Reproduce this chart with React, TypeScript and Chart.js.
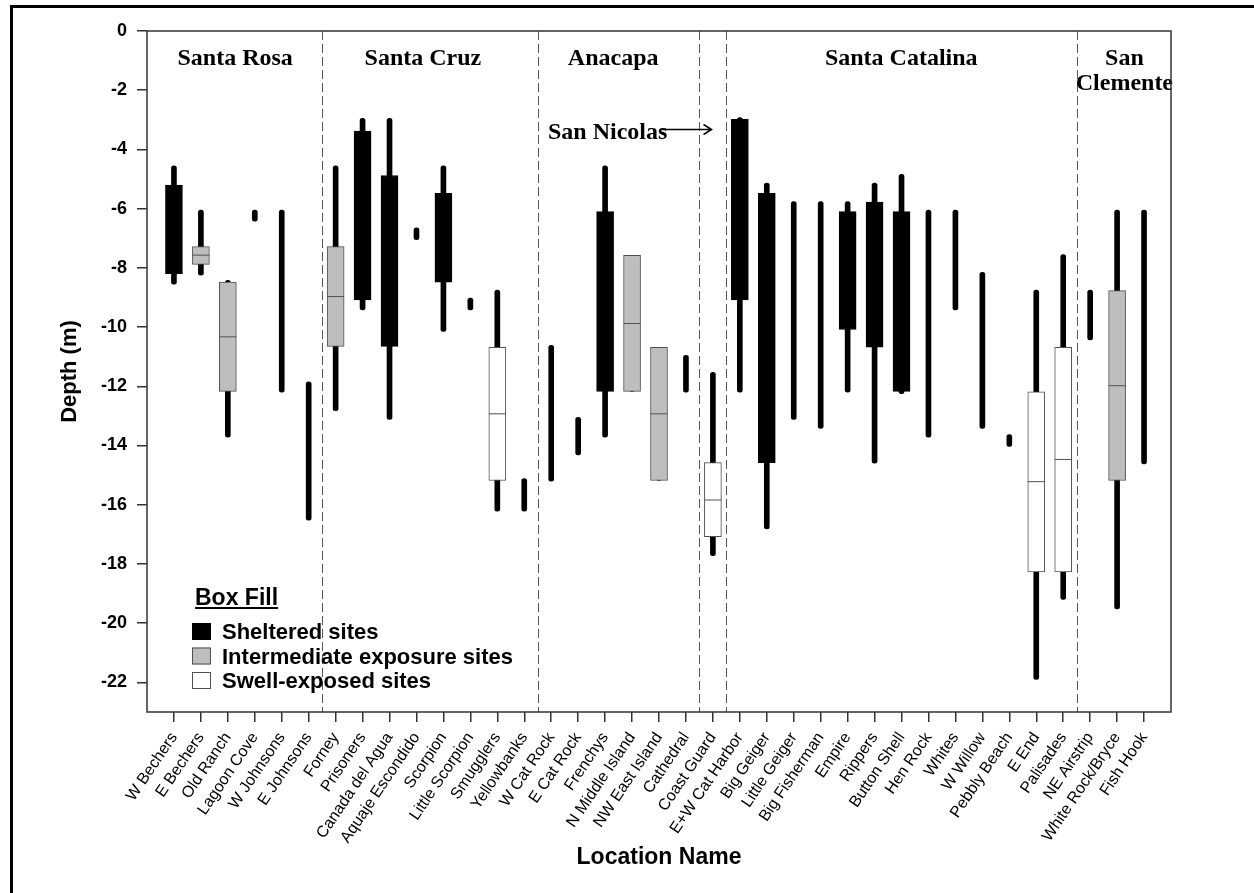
import React, { useEffect, useRef } from 'react';
import { Chart, registerables } from 'chart.js';

Chart.register(...registerables);

// ---------- DATA ----------
const locations = [
  'W Bechers', 'E Bechers', 'Old Ranch', 'Lagoon Cove', 'W Johnsons', 'E Johnsons',
  'Forney', 'Prisoners', 'Canada del Agua', 'Aquaje Escondido', 'Scorpion', 'Little Scorpion', 'Smugglers', 'Yellowbanks',
  'W Cat Rock', 'E Cat Rock', 'Frenchys', 'N Middle Island', 'NW East Island', 'Cathedral',
  'Coast Guard',
  'E+W Cat Harbor', 'Big Geiger', 'Little Geiger', 'Big Fisherman', 'Empire', 'Rippers', 'Button Shell', 'Hen Rock',
  'Whites', 'W Willow', 'Pebbly Beach', 'E End', 'Palisades',
  'NE Airstrip', 'White Rock/Bryce', 'Fish Hook',
];

const whiskerHigh = [
  -4.55, -6.05, -8.42, -6.05, -6.05, -11.85,
  -4.55, -2.95, -2.95, -6.65, -4.55, -9.02, -8.75, -15.12,
  -10.62, -13.05, -4.55, -7.58, -10.68, -10.95,
  -11.53,
  -2.92, -5.14, -5.76, -5.76, -5.76, -5.14, -4.84, -6.05,
  -6.05, -8.15, -13.63, -8.75, -7.55,
  -8.75, -6.05, -6.05,
];

const whiskerLow = [
  -8.55, -8.25, -13.72, -6.42, -12.2, -16.52,
  -12.82, -9.42, -13.12, -7.05, -10.15, -9.42, -16.22, -16.22,
  -15.2, -14.32, -13.72, -12.17, -15.18, -12.2,
  -17.72,
  -12.2, -16.82, -13.12, -13.42, -12.2, -14.6, -12.25, -13.72,
  -9.42, -13.42, -14.03, -21.9, -19.2,
  -10.43, -19.52, -14.62,
];

const boxHigh = [
  -5.2, -7.28, -8.48, null, null, null,
  -7.28, -3.38, -4.88, null, -5.48, null, -10.68, null,
  null, null, -6.1, -7.58, -10.68, null,
  -14.58,
  -2.98, -5.48, null, null, -6.1, -5.78, -6.1, null,
  null, null, null, -12.19, -10.68,
  null, -8.77, null,
];

const boxLow = [
  -8.2, -7.88, -12.17, null, null, null,
  -10.65, -9.08, -10.65, null, -8.48, null, -15.18, null,
  null, null, -12.17, -12.17, -15.18, null,
  -17.08,
  -9.08, -14.58, null, null, -10.08, -10.68, -12.17, null,
  null, null, null, -18.27, -18.27,
  null, -15.18, null,
];

const medians = [
  null, -7.57, -10.33, null, null, null,
  -8.97, null, null, null, null, null, -12.93, null,
  null, null, null, -9.88, -12.93, null,
  -15.84,
  null, null, null, null, null, null, null, null,
  null, null, null, -15.22, -14.47,
  null, -11.98, null,
];

// S = sheltered, I = intermediate exposure, E = swell-exposed (only where a box is drawn)
const exposure = [
  'S', 'I', 'I', null, null, null,
  'I', 'S', 'S', null, 'S', null, 'E', null,
  null, null, 'S', 'I', 'I', null,
  'E',
  'S', 'S', null, null, 'S', 'S', 'S', null,
  null, null, null, 'E', 'E',
  null, 'I', null,
];

const yTickValues = [0, -2, -4, -6, -8, -10, -12, -14, -16, -18, -20, -22];
const islandDividers = [5.5, 13.5, 19.5, 20.5, 33.5];
const islandNames = [['Santa Rosa'], ['Santa Cruz'], ['Anacapa'], ['Santa Catalina'], ['San', 'Clemente']];
const legendTitle = 'Box Fill';
const legendLabels = ['Sheltered sites', 'Intermediate exposure sites', 'Swell-exposed sites'];
const legendKinds = ['S', 'I', 'E'];

// ---------- LAYOUT / STYLE ----------
const W = 1254;
const H = 893;
const SANS = '"Liberation Sans", Arial, Helvetica, sans-serif';
const SERIF = '"Liberation Serif", "Times New Roman", serif';
const FILL = { S: '#000000', I: '#bebebe', E: '#ffffff' };
const EDGE = { S: '#000000', I: '#505050', E: '#505050' };
const islandLabelX = [2.27, 9.24, 16.3, 26.99, 35.27];
const islandLabelY = -0.95;
const islandLabelLineGap = 0.82;

const decorPlugin = {
  id: 'decor',
  beforeDatasetsDraw(chart: any) {
    const { ctx, chartArea: a, scales } = chart;
    const x = scales.x;
    ctx.save();
    ctx.strokeStyle = '#555';
    ctx.lineWidth = 1;
    ctx.setLineDash([9, 4]);
    for (const d of islandDividers) {
      const px = Math.round(x.getPixelForValue(d)) + 0.5;
      ctx.beginPath();
      ctx.moveTo(px, a.top);
      ctx.lineTo(px, a.bottom);
      ctx.stroke();
    }
    ctx.restore();
  },
  afterDraw(chart: any) {
    const { ctx, chartArea: a, scales } = chart;
    const x = scales.x;
    const y = scales.y;
    ctx.save();

    // island names
    ctx.fillStyle = '#000';
    ctx.font = `bold 24px ${SERIF}`;
    ctx.textAlign = 'center';
    ctx.textBaseline = 'middle';
    islandNames.forEach((lines, i) => {
      lines.forEach((t, j) => {
        ctx.fillText(t, x.getPixelForValue(islandLabelX[i]), y.getPixelForValue(islandLabelY - j * islandLabelLineGap));
      });
    });

    // San Nicolas with arrow
    ctx.textAlign = 'left';
    ctx.fillText('San Nicolas', x.getPixelForValue(13.88), y.getPixelForValue(-3.44));
    const ay = Math.round(y.getPixelForValue(-3.32)) + 0.5;
    const ax0 = x.getPixelForValue(18.05);
    const ax1 = x.getPixelForValue(19.95);
    ctx.strokeStyle = '#000';
    ctx.lineWidth = 1.5;
    ctx.beginPath();
    ctx.moveTo(ax0, ay);
    ctx.lineTo(ax1, ay);
    ctx.moveTo(ax1 - 8, ay - 5);
    ctx.lineTo(ax1, ay);
    ctx.lineTo(ax1 - 8, ay + 5);
    ctx.stroke();

    // legend
    const lx = a.left + 45;
    ctx.font = `bold 23px ${SANS}`;
    ctx.textBaseline = 'alphabetic';
    ctx.fillText(legendTitle, lx + 3, 605);
    const tw = ctx.measureText(legendTitle).width;
    ctx.fillRect(lx + 3, 607, tw, 2);
    ctx.font = `bold 22px ${SANS}`;
    legendLabels.forEach((t, i) => {
      const top = 623 + i * 24.5;
      const k = legendKinds[i] as 'S' | 'I' | 'E';
      ctx.fillStyle = FILL[k];
      ctx.fillRect(lx, top, 19, 17);
      ctx.strokeStyle = EDGE[k];
      ctx.lineWidth = 1;
      ctx.strokeRect(lx + 0.5, top + 0.5, 18, 16);
      ctx.fillStyle = '#000';
      ctx.textBaseline = 'middle';
      ctx.fillText(t, lx + 30, top + 10);
    });

    // plot frame
    ctx.strokeStyle = '#333';
    ctx.lineWidth = 1.5;
    ctx.setLineDash([]);
    ctx.strokeRect(a.left, a.top, a.right - a.left, a.bottom - a.top);

    // outer page frame (left and top)
    ctx.fillStyle = '#000';
    ctx.fillRect(10, 5, 3, H - 5);
    ctx.fillRect(10, 5, W - 10, 3);
    ctx.restore();
  },
};

function boxDataset(kind: 'S' | 'I' | 'E', label: string) {
  const data: any[] = [];
  locations.forEach((_, i) => {
    if (exposure[i] === kind && boxHigh[i] != null && boxLow[i] != null) {
      data.push({ x: i, y: [boxLow[i], boxHigh[i]] });
    }
  });
  return {
    type: 'bar',
    label,
    data,
    backgroundColor: FILL[kind],
    borderColor: EDGE[kind],
    borderWidth: 1,
    borderSkipped: false,
    barThickness: 17,
    grouped: false,
    order: 2,
  };
}

export default function App() {
  const ref = useRef<HTMLCanvasElement | null>(null);

  useEffect(() => {
    document.body.style.margin = '0';
    if (!ref.current) return;

    const whiskerData = locations.map((_, i) => ({ x: i, y: [whiskerLow[i], whiskerHigh[i]] }));
    const medianData: any[] = [];
    locations.forEach((_, i) => {
      if (medians[i] != null) medianData.push({ x: i, y: medians[i] });
    });

    const chart = new Chart(ref.current, {
      type: 'bar',
      data: {
        datasets: [
          {
            type: 'bar',
            label: 'range',
            data: whiskerData,
            backgroundColor: '#000',
            borderWidth: 0,
            borderRadius: 3,
            borderSkipped: false,
            barThickness: 5,
            grouped: false,
            order: 3,
          } as any,
          boxDataset('S', legendLabels[0]) as any,
          boxDataset('I', legendLabels[1]) as any,
          boxDataset('E', legendLabels[2]) as any,
          {
            type: 'scatter',
            label: 'median',
            data: medianData,
            pointStyle: 'line',
            pointRadius: 8.5,
            pointBorderWidth: 1,
            pointBorderColor: '#505050',
            pointBackgroundColor: '#505050',
            showLine: false,
            order: 1,
          } as any,
        ],
      },
      options: {
        animation: false,
        responsive: false,
        events: [],
        layout: { padding: { top: 31, right: 83, left: 0, bottom: 0 } },
        plugins: { legend: { display: false }, tooltip: { enabled: false } },
        scales: {
          x: {
            type: 'linear',
            min: -1,
            max: 37,
            offset: false,
            grid: { offset: false, drawOnChartArea: false, drawTicks: true, tickLength: 10, color: '#333', lineWidth: 1.5 },
            border: { display: false },
            afterBuildTicks: (s: any) => {
              s.ticks = locations.map((_, i) => ({ value: i }));
            },
            afterFit: (s: any) => {
              s.height = H - 712;
            },
            ticks: {
              autoSkip: false,
              minRotation: 56,
              maxRotation: 56,
              padding: 7,
              color: '#000',
              font: { family: SANS, size: 16 },
              callback: (v: any) => locations[v as number],
            },
            title: {
              display: true,
              text: 'Location Name',
              color: '#000',
              font: { family: SANS, size: 23, weight: 'bold' },
              padding: { top: 0, bottom: 22 },
            },
          } as any,
          y: {
            type: 'linear',
            min: -23,
            max: 0,
            grid: { drawOnChartArea: false, drawTicks: true, tickLength: 10, color: '#333', lineWidth: 1.5 },
            border: { display: false },
            afterBuildTicks: (s: any) => {
              s.ticks = yTickValues.map((v) => ({ value: v }));
            },
            afterFit: (s: any) => {
              s.width = 147;
            },
            ticks: {
              padding: 10,
              color: '#000',
              font: { family: SANS, size: 18, weight: 'bold' },
              callback: (v: any) => String(v),
            },
            title: {
              display: true,
              text: 'Depth (m)',
              color: '#000',
              font: { family: SANS, size: 22, weight: 'bold' },
              padding: { top: 57, bottom: 0 },
            },
          } as any,
        },
      },
      plugins: [decorPlugin],
    } as any);

    return () => chart.destroy();
  }, []);

  return <canvas ref={ref} width={W} height={H} style={{ display: 'block' }} />;
}
